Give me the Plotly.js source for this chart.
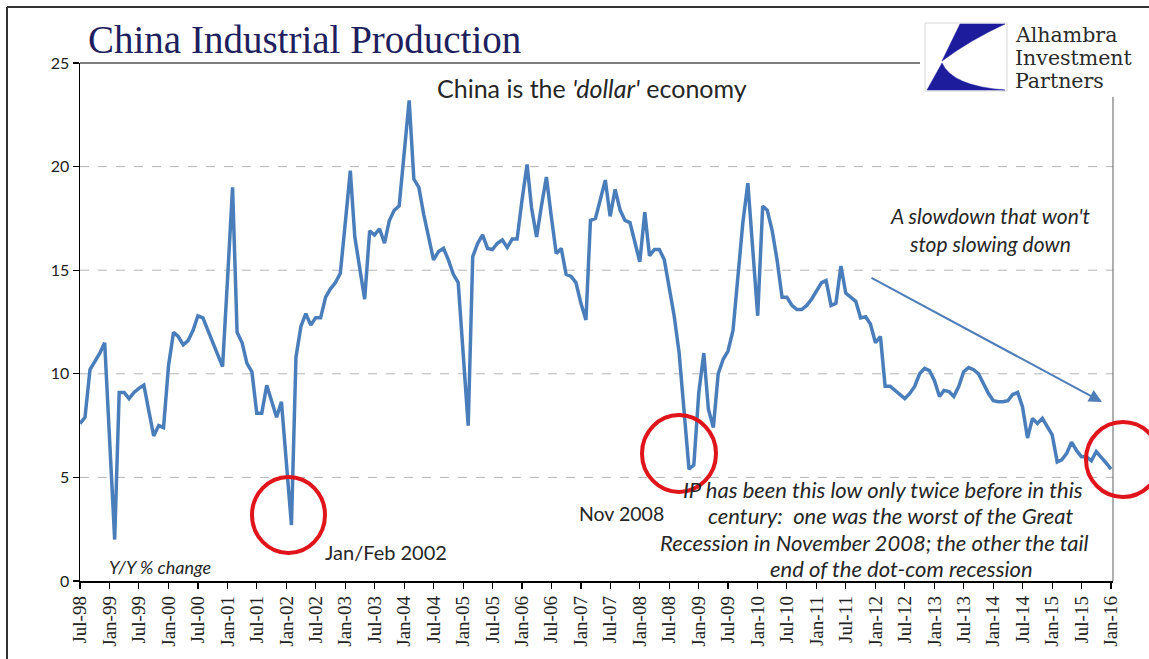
<!DOCTYPE html>
<html>
<head>
<meta charset="utf-8">
<script src="https://cdn.plot.ly/plotly-3.0.1.min.js"></script>
<style>
  html, body { margin: 0; padding: 0; background: #ffffff; }
  #chart { width: 1149px; height: 659px; }
</style>
</head>
<body>
<div id="chart"></div>
<script>
// ---- Data ----
const startYear = 1998;
const startMonth = 7; // July 1998, monthly observations through January 2016

// China industrial production, Y/Y % change
const ipYoY = [
  // 1998 Jul-Dec
  7.6, 7.9, 10.2, 10.6, 11.0, 11.5,
  // 1999
  6.8, 2.0, 9.1, 9.1, 8.8, 9.1, 9.3, 9.45, 8.2, 7.0, 7.5, 7.4,
  // 2000
  10.4, 12.0, 11.8, 11.4, 11.6, 12.1, 12.8, 12.7, 12.1, 11.5, 10.9, 10.35,
  // 2001
  14.6, 19.0, 12.0, 11.5, 10.5, 10.1, 8.1, 8.1, 9.45, 8.7, 7.9, 8.65,
  // 2002
  5.5, 2.7, 10.8, 12.3, 12.9, 12.35, 12.7, 12.7, 13.7, 14.1, 14.4, 14.85,
  // 2003
  17.3, 19.8, 16.6, 15.0, 13.6, 16.9, 16.7, 17.0, 16.3, 17.4, 17.9, 18.1,
  // 2004
  20.7, 23.2, 19.4, 19.0, 17.7, 16.6, 15.5, 15.9, 16.05, 15.5, 14.8, 14.4,
  // 2005
  10.8, 7.5, 15.65, 16.3, 16.7, 16.05, 16.0, 16.3, 16.46, 16.1, 16.5, 16.5,
  // 2006
  18.4, 20.1, 18.0, 16.6, 18.1, 19.5, 17.6, 15.8, 16.05, 14.8, 14.7, 14.4,
  // 2007
  13.4, 12.6, 17.4, 17.5, 18.4, 19.35, 17.6, 18.9, 17.9, 17.4, 17.3, 16.4,
  // 2008
  15.4, 17.8, 15.7, 16.0, 16.0, 15.5, 14.2, 12.8, 11.0, 8.25, 5.4, 5.6,
  // 2009
  9.1, 11.0, 8.3, 7.4, 10.0, 10.7, 11.1, 12.1, 14.7, 17.3, 19.2, 16.3,
  // 2010
  12.8, 18.1, 17.9, 16.9, 15.5, 13.7, 13.7, 13.3, 13.1, 13.1, 13.3, 13.6,
  // 2011
  14.0, 14.4, 14.5, 13.3, 13.4, 15.2, 13.9, 13.7, 13.5, 12.7, 12.75, 12.4,
  // 2012
  11.5, 11.8, 9.4, 9.4, 9.2, 9.0, 8.8, 9.05, 9.4, 10.0, 10.26, 10.15,
  // 2013
  9.67, 8.9, 9.2, 9.14, 8.9, 9.4, 10.1, 10.3, 10.2, 10.0, 9.5, 9.06,
  // 2014
  8.7, 8.65, 8.65, 8.7, 9.0, 9.1, 8.4, 6.9, 7.85, 7.6, 7.85, 7.45,
  // 2015
  7.05, 5.75, 5.85, 6.16, 6.7, 6.3, 6.0, 6.0, 5.8, 6.25, 6.0, 5.7,
  // 2016
  5.4
];

const yTickVals = [0, 5, 10, 15, 20, 25];
const gridLevels = [5, 10, 15, 20];

// monthly date categories
const months = ipYoY.map((_, i) => {
  const total = (startMonth - 1) + i;
  const y = startYear + Math.floor(total / 12);
  const m = (total % 12) + 1;
  return y + '-' + String(m).padStart(2, '0') + '-01';
});

// ---- Geometry helpers (pixels -> paper) ----
const L = 80, R = 1113, T = 63, B = 581;
const px = p => (p - L) / (R - L);
const py = p => (B - p) / (B - T);

const lineBlue = '#4A7EBB';
const red = '#E0141B';
const navy = '#1C1C9C';

const shapes = [];
// outer frame (left and top edges visible)
shapes.push({type:'line', xref:'paper', yref:'paper', x0:px(7), x1:px(7), y0:py(7), y1:py(700), line:{color:'#333', width:2}});
shapes.push({type:'line', xref:'paper', yref:'paper', x0:px(7), x1:px(1160), y0:py(7), y1:py(7), line:{color:'#333', width:2}});
// plot area border: top and right
shapes.push({type:'line', xref:'paper', yref:'paper', x0:0, x1:px(920), y0:1, y1:1, line:{color:'#555', width:1.5}});
shapes.push({type:'line', xref:'paper', yref:'paper', x0:1, x1:1, y0:0, y1:py(97), line:{color:'#777', width:1.2}});
// dashed gridlines
gridLevels.forEach(g => shapes.push({type:'line', xref:'paper', yref:'y', x0:0, x1:1, y0:g, y1:g, layer:'below', line:{color:'#B5B5B5', width:1, dash:'dash'}}));
// red circles
shapes.push({type:'circle', xref:'paper', yref:'paper', x0:px(252), x1:px(325), y0:py(477), y1:py(553), line:{color:red, width:4}});
shapes.push({type:'circle', xref:'paper', yref:'paper', x0:px(642), x1:px(716), y0:py(415), y1:py(492), line:{color:red, width:4}});
shapes.push({type:'circle', xref:'paper', yref:'paper', x0:px(1086), x1:px(1160), y0:py(422), y1:py(497), line:{color:red, width:4}});
// logo box
shapes.push({type:'rect', xref:'paper', yref:'paper', x0:px(925), x1:px(1007), y0:py(23), y1:py(91), fillcolor:'#ffffff', line:{color:'#d8d8d8', width:1}});
const P = (a, b) => px(a) + ',' + py(b);
shapes.push({type:'path', xref:'paper', yref:'paper',
  path: 'M' + P(960,24) + ' L' + P(1005,24) + ' Q' + P(970,40) + ' ' + P(942,61) + ' Z',
  fillcolor:navy, line:{color:navy, width:0.5}});
shapes.push({type:'path', xref:'paper', yref:'paper',
  path: 'M' + P(942,63) + ' L' + P(927,90) + ' L' + P(1005,90) + ' Q' + P(952,86) + ' ' + P(942,63) + ' Z',
  fillcolor:navy, line:{color:navy, width:0.5}});

const sans = 'Lato, "Open Sans", sans-serif';
const serif = '"Liberation Serif", "Times New Roman", serif';
const logoSerif = '"DejaVu Serif", serif';
const ann = (text, cx, cy, size, opts) => Object.assign({
  text: text, xref:'paper', yref:'paper', x: px(cx), y: py(cy),
  xanchor:'center', yanchor:'middle', showarrow:false,
  font:{family:sans, size:size, color:'#262626'}
}, opts || {});

const annotations = [
  ann("China is the <i>'dollar'</i> economy", 592, 88, 25),
  ann('<i>A slowdown that won\'t</i>', 990, 216, 21),
  ann('<i>stop slowing down</i>', 990, 244, 21),
  ann('<i>Y/Y % change</i>', 160, 567, 18),
  ann('Jan/Feb 2002', 386, 552, 20),
  ann('Nov 2008', 621, 513, 19.5),
  ann('<i>IP has been this low only twice before in this</i>', 883, 489, 22),
  ann('<i>century:  one was the worst of the Great</i>', 890, 515.5, 22),
  ann('<i>Recession in November 2008; the other the tail</i>', 874, 542, 22),
  ann('<i>end of the dot-com recession</i>', 901, 568, 22),
  // logo text
  ann('Alhambra', 1013, 35, 20.5, {xanchor:'left', font:{family:logoSerif, size:20.5, color:'#2a2a2a'}}),
  ann('Investment', 1013, 58, 20.5, {xanchor:'left', font:{family:logoSerif, size:20.5, color:'#2a2a2a'}}),
  ann('Partners', 1013, 81, 20.5, {xanchor:'left', font:{family:logoSerif, size:20.5, color:'#2a2a2a'}}),
  // trend arrow
  {text:'', xref:'paper', yref:'paper', x: px(1102), y: py(402), ax: -232, ay: -125,
   showarrow:true, arrowhead:2, arrowsize:1.3, arrowwidth:2, arrowcolor:'#4F7DB8', standoff:0}
];

const trace = {
  type:'scatter', mode:'lines', x: months, y: ipYoY,
  line:{color: lineBlue, width:3.5}, hoverinfo:'x+y'
};

const layout = {
  width:1149, height:659,
  margin:{l:L, r:1149-R, t:T, b:659-B, pad:0},
  paper_bgcolor:'#ffffff', plot_bgcolor:'#ffffff',
  showlegend:false,
  title:{text:'China Industrial Production', x:88/1149, xanchor:'left', xref:'container',
         y:1-39/659, yanchor:'middle', yref:'container',
         font:{family:serif, size:39, color:'#1F1F5E'}},
  xaxis:{
    type:'date', range:['1998-07-01','2016-01-13'],
    tick0:'1998-07-01', dtick:'M6', tickformat:'%b-%y', tickangle:-90,
    ticks:'outside', ticklen:6, tickcolor:'#000', tickwidth:1.2,
    showline:true, linecolor:'#000', linewidth:1.5,
    showgrid:false, zeroline:false,
    tickfont:{family:serif, size:19, color:'#222'}
  },
  yaxis:{
    range:[0,25], tickvals:yTickVals, ticktext:yTickVals.map(String),
    ticks:'outside', ticklen:6, tickcolor:'#000', tickwidth:1.2,
    showline:true, linecolor:'#000', linewidth:1.5,
    showgrid:false, zeroline:false,
    tickfont:{family:sans, size:16, color:'#222'}
  },
  shapes: shapes,
  annotations: annotations
};

Plotly.newPlot('chart', [trace], layout, {displayModeBar:false, staticPlot:true});
</script>
</body>
</html>
